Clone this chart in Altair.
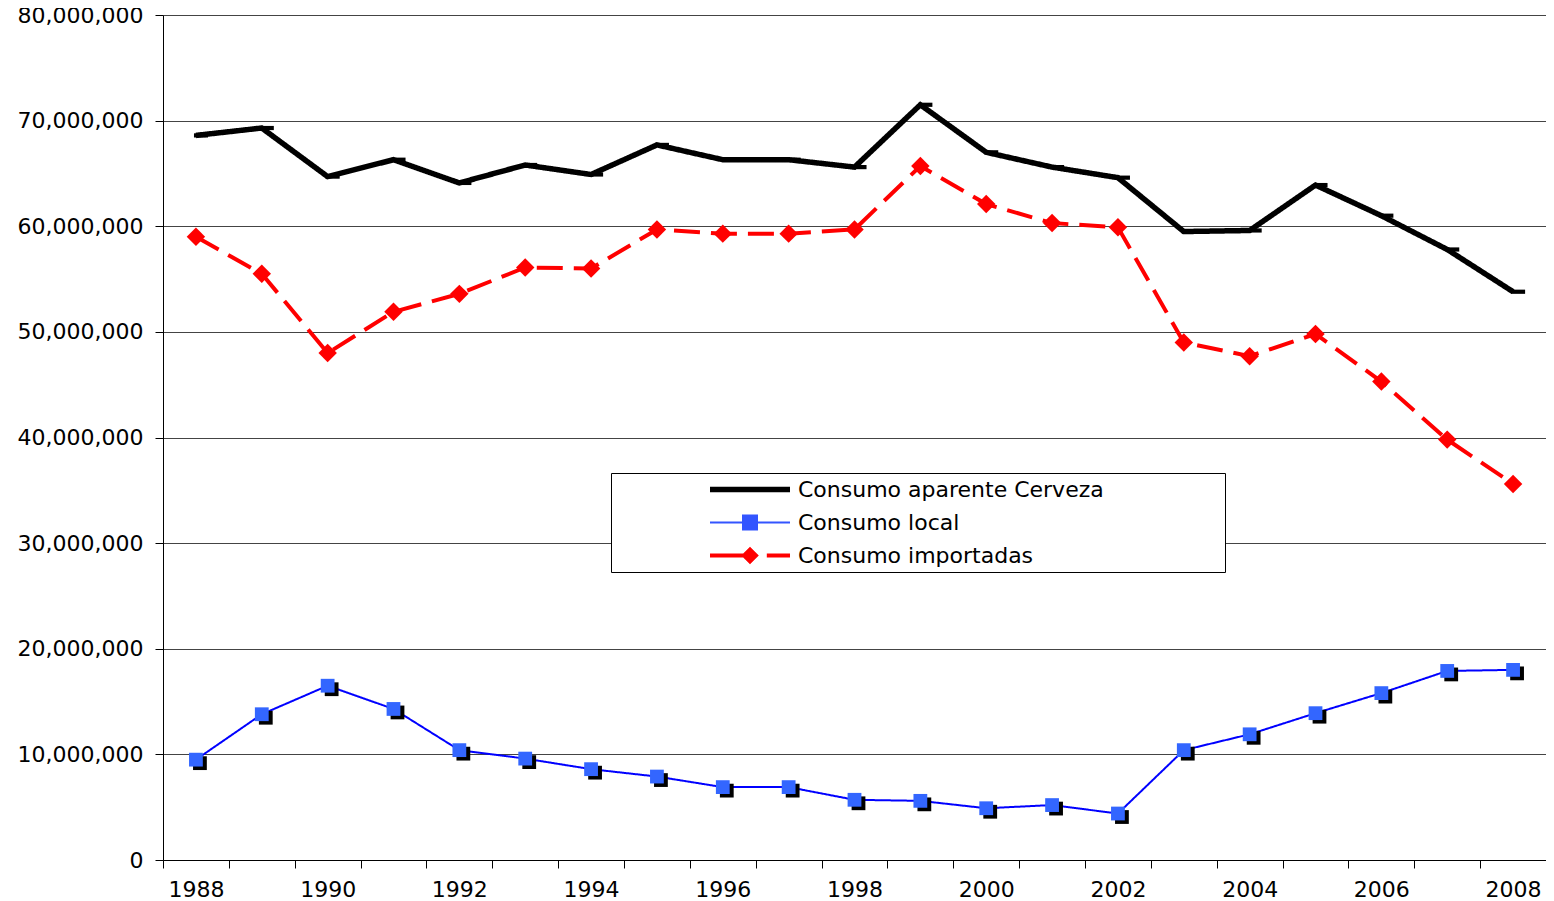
import altair as alt
import pandas as pd

years = list(range(1988, 2009))
aparente = [68600000, 69300000, 64700000, 66300000, 64100000, 65800000, 64900000,
            67700000, 66300000, 66300000, 65600000, 71500000, 67000000, 65600000,
            64600000, 59500000, 59600000, 63900000, 61000000, 57800000, 53800000]
local = [9500000, 13800000, 16500000, 14300000, 10400000, 9600000, 8600000,
         7900000, 6900000, 6900000, 5700000, 5600000, 4900000, 5200000,
         4400000, 10400000, 11900000, 13900000, 15800000, 17900000, 18000000]
importadas = [59000000, 55500000, 48000000, 51900000, 53600000, 56100000, 56000000,
              59700000, 59300000, 59300000, 59700000, 65700000, 62100000, 60300000,
              59900000, 49000000, 47700000, 49800000, 45300000, 39800000, 35600000]
series_names = ["Consumo aparente Cerveza", "Consumo local", "Consumo importadas"]
y_ticks = [0, 10000000, 20000000, 30000000, 40000000, 50000000, 60000000, 70000000, 80000000]
x_boundaries = [y - 0.5 for y in years] + [2008.5]

rows = []
for name, vals in zip(series_names, [aparente, local, importadas]):
    for yr, v in zip(years, vals):
        rows.append({"year": yr, "value": v, "serie": name})
df = pd.DataFrame(rows)

FONT = "DejaVu Sans"
W, H = 1383, 845
band = W / 21.0

x_enc = alt.X("year:Q",
              scale=alt.Scale(domain=[1987.5, 2008.5], nice=False, zero=False),
              axis=alt.Axis(values=x_boundaries, tickOffset=0, labelOffset=band / 2,
                            labelExpr="datum.value < 2008 && (datum.value + 0.5) % 2 == 0 ? toString(datum.value + 0.5) : ''",
                            title=None, grid=False, tickSize=8, tickColor="black",
                            domainColor="black", labelFont=FONT, labelFontSize=22,
                            labelColor="black", labelPadding=11, labelFlush=False,
                            labelOverlap=False))
y_enc = alt.Y("value:Q",
              scale=alt.Scale(domain=[0, 80000000], nice=False),
              axis=alt.Axis(values=y_ticks, format=",.0f", title=None, grid=True,
                            gridColor="#444444", gridWidth=1, tickSize=8,
                            tickColor="black", domainColor="black", labelFont=FONT,
                            labelFontSize=22, labelColor="black", labelPadding=12))

# legend symbols drawn as filled paths (line segments as thin rectangles)
shape_expr = ("(datum.value === 'Consumo local' ? "
              "'M-1,-0.025H1V0.025H-1ZM-0.2,-0.2H0.2V0.2H-0.2Z' : "
              "datum.value === 'Consumo importadas' ? "
              "'M-1,-0.05H0V0.05H-1ZM0,-0.22L0.22,0L0,0.22L-0.22,0ZM0.42,-0.05H1V0.05H0.42Z' : "
              "'M-1,-0.07H1V0.07H-1Z')")
fill_expr = ("(datum.value === 'Consumo local' ? '#3355ff' : "
             "datum.value === 'Consumo importadas' ? '#ff0000' : '#000000')")

legend = alt.Legend(
    orient="none", legendX=448, legendY=458, title="\u00a0", titleOrient="right",
    titlePadding=121, titleFontSize=21, titleFont=FONT,
    symbolSize=6400, symbolOffset=99, labelOffset=8, clipHeight=33, rowPadding=0,
    padding=0, labelFont=FONT, labelFontSize=22, labelColor="black", labelLimit=1000,
    fillColor="white", strokeColor="black", cornerRadius=0,
    symbolType={"expr": shape_expr},
    symbolFillColor={"expr": fill_expr},
    symbolStrokeWidth=0,
)

sw_cond = alt.StrokeWidthValue(
    value=5.5,
    condition=[{"test": "datum.serie === 'Consumo local'", "value": 2},
               {"test": "datum.serie === 'Consumo importadas'", "value": 4}])

base = alt.Chart(df)

lines = base.mark_line(strokeJoin="miter").encode(
    x=x_enc, y=y_enc,
    color=alt.Color("serie:N", scale=alt.Scale(domain=series_names,
                                                range=["#000000", "#0000ff", "#ff0000"]),
                    legend=legend),
    strokeWidth=sw_cond,
    strokeDash=alt.StrokeDash("serie:N", scale=alt.Scale(domain=series_names,
                                                         range=[[1, 0], [1, 0], [26, 11]]),
                              legend=None),
)

dash_marks = base.transform_filter(alt.datum.serie == series_names[0]).mark_point(
    shape="M-0.14,-0.15H0.86V0.15H-0.14Z", size=784, filled=True, color="black", opacity=1
).encode(x="year:Q", y="value:Q")

shadow = base.transform_filter(alt.datum.serie == series_names[1]).mark_point(
    shape="square", size=190, filled=True, color="black", opacity=1, xOffset=4, yOffset=3.5
).encode(x="year:Q", y="value:Q")

squares = base.transform_filter(alt.datum.serie == series_names[1]).mark_point(
    shape="square", size=190, filled=True, color="#3366ff", opacity=1
).encode(x="year:Q", y="value:Q")

diamonds = base.transform_filter(alt.datum.serie == series_names[2]).mark_point(
    shape="diamond", size=340, filled=True, color="#ff0000", opacity=1
).encode(x="year:Q", y="value:Q")

chart = alt.layer(lines, dash_marks, shadow, squares, diamonds).properties(
    width=W, height=H,
    autosize=alt.AutoSizeParams(type="none"),
    padding={"left": 155, "top": 7, "right": 0, "bottom": 40},
).configure_view(stroke="#808080", strokeWidth=1).configure(background="white")

chart.save("out.html", embed_options={"renderer": "svg", "actions": False})
